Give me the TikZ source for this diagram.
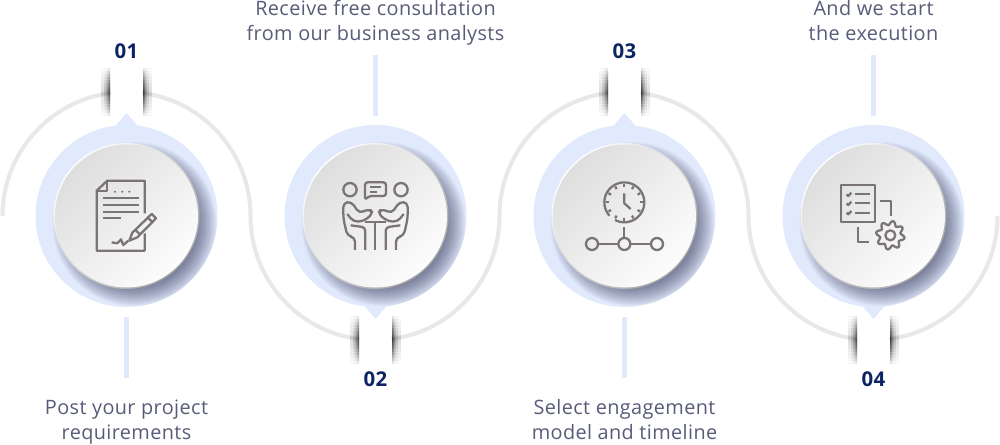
\documentclass[tikz,border=0pt]{standalone}
\usepackage{fontspec}
\setmainfont[LetterSpace=2]{Open Sans}

\definecolor{haloblue}{HTML}{E1E9FC}
\definecolor{arcgrey}{HTML}{E8E8E8}
\definecolor{iconink}{HTML}{7A7574}
\definecolor{textink}{HTML}{585C78}
\definecolor{numberink}{HTML}{0C2463}
\definecolor{shadowink}{HTML}{2A2E50}

\tikzset{
  halo/.style={fill=haloblue},
  route/.style={draw=arcgrey, line width=2.3pt},
  stem/.style={draw=haloblue, line width=2.3pt},
  discshadow/.style={fill=shadowink, fill opacity=0.035},
  gapshadow/.style={fill=black, fill opacity=0.016},
  icon/.style={draw=iconink, line width=1.3pt, line join=round},
  iconbox/.style 2 args={shift={(#1,#2)}, x=0.00667cm, y=-0.00667cm},
  caption/.style={text=textink, font=\fontsize{11.3pt}{14.2pt}\selectfont, align=center},
  number/.style={text=numberink, font=\fontsize{11.6pt}{14pt}\selectfont\bfseries}
}

% name, x, tip direction
\newcommand{\stepdisc}[3]{
  \coordinate (#1) at (#2,228);
  \fill[halo] (#1) circle (91);
  \fill[halo] ([shift={(-12,#3*89)}]#1) -- ([shift={(0,#3*103)}]#1) -- ([shift={(12,#3*89)}]#1) -- cycle;
  \begin{scope}
    \clip (#1) circle (91);
    \foreach \r in {60,61,...,82}
      \fill[discshadow] ([shift={(8,-8)}]#1) circle (\r);
  \end{scope}
  \shade[top color=white, bottom color=black!35, shading angle=45] (#1) circle (73);
  \shade[top color=black!13, bottom color=black!1, shading angle=45] (#1) circle (71.5);
}

% x of gap, y of gap
\newcommand{\gapshade}[2]{
  \foreach \w in {0.5,1,1.5,2,3,4,6,9}
    \foreach \h in {3,6,...,24} {
      \fill[gapshadow] (#1-16.5,#2-\h) rectangle (#1-16.5-\w,#2+\h);
      \fill[gapshadow] (#1+16.5,#2-\h) rectangle (#1+16.5+\w,#2+\h);
    }
}

\begin{document}
\begin{tikzpicture}[x=0.02cm, y=0.02cm]
  \fill[white] (0,0) rectangle (1000,444);
  \useasboundingbox (0,0) rectangle (1000,444);

  % Discs
  \stepdisc{disc1}{126.5}{1}
  \stepdisc{disc2}{375.5}{-1}
  \stepdisc{disc3}{624.5}{1}
  \stepdisc{disc4}{873.5}{-1}

  % Route
  \draw[route] ([shift={(180:124)}]disc1) arc[start angle=180, end angle=97.4, radius=124];
  \draw[route] ([shift={(82.6:124)}]disc1) arc[start angle=82.6, end angle=0, radius=124]
    arc[start angle=180, end angle=262.6, radius=124];
  \draw[route] ([shift={(277.4:124)}]disc2) arc[start angle=277.4, end angle=360, radius=124]
    arc[start angle=180, end angle=97.4, radius=124];
  \draw[route] ([shift={(82.6:124)}]disc3) arc[start angle=82.6, end angle=0, radius=124]
    arc[start angle=180, end angle=262.6, radius=124];
  \draw[route] ([shift={(277.4:124)}]disc4) arc[start angle=277.4, end angle=360, radius=124];

  \gapshade{126.5}{352}
  \gapshade{375.5}{104}
  \gapshade{624.5}{352}
  \gapshade{873.5}{104}

  % Stems
  \coordinate (stem1a) at (126.5,127); \coordinate (stem1b) at (126.5,66);
  \coordinate (stem2a) at (375.5,389); \coordinate (stem2b) at (375.5,328);
  \coordinate (stem3a) at (624.5,127); \coordinate (stem3b) at (624.5,66);
  \coordinate (stem4a) at (873.5,389); \coordinate (stem4b) at (873.5,328);
  \foreach \n in {1,2,3,4}
    \draw[stem] (stem\n a) -- (stem\n b);

  % Numbers
  \node[number] (num1) at (126.5,393) {01};
  \node[number] (num2) at (375.5,65) {02};
  \node[number] (num3) at (624.5,393) {03};
  \node[number] (num4) at (873.5,65) {04};

  % Captions
  \node[caption] (text1) at (126.5,22) {Post your project\\requirements};
  \node[caption] (text2) at (375.5,421.5) {Receive free consultation\\from our business analysts};
  \node[caption] (text3) at (624.5,24) {Select engagement\\model and timeline};
  \node[caption] (text4) at (873.5,423.5) {And we start\\the execution};

  % Document icon
  \begin{scope}[iconbox={60}{294}]
    \draw[icon] (254,190) -- (254,92) -- (142,92) -- (110,122) -- (110,302) -- (254,302) -- (254,250);
    \draw[icon] (142,92) -- (142,122) -- (110,122);
    \foreach \y in {145,165,185}
      \draw[icon] (130,\y) -- (236,\y);
    \draw[icon] (130,205) -- (183,205);
    \foreach \x in {165,187,208}
      \fill[iconink] (\x,125) circle (3.5);
    \draw[icon] (155,277) -- (172,280) -- (183,268) -- (190,285) -- (205,272);
    \draw[icon] (208,272) -- (217,248) -- (275,192) -- (288,205) -- (232,262) -- cycle;
    \draw[icon] (226,240) -- (241,254);
    \draw[icon] (264,203) -- (277,216);
  \end{scope}

  % Meeting icon
  \begin{scope}[iconbox={310}{294}]
    \draw[icon] (120,119) circle (20);
    \draw[icon] (273,119) circle (20);
    \draw[icon, rounded corners=1.5pt] (165,150) -- (165,97) -- (228,97) -- (228,138) -- (177,138) -- cycle;
    \draw[icon] (180,110) -- (212,110);
    \draw[icon] (180,125) -- (200,125);
    \draw[icon, rounded corners=2.5pt] (112,192) -- (130,215) -- (160,214) -- (190,190) -- (178,176) -- (148,190) -- (124,155) -- (100,158) -- (100,205) -- (112,258) -- (135,262) -- (135,300);
    \draw[icon, rounded corners=2.5pt] (281,192) -- (263,215) -- (233,214) -- (203,190) -- (215,176) -- (245,190) -- (269,155) -- (293,158) -- (293,205) -- (281,258) -- (258,262) -- (258,300);
    \draw[icon, rounded corners=2pt] (122,226) -- (166,232) -- (166,300);
    \draw[icon, rounded corners=2pt] (271,226) -- (227,232) -- (227,300);
    \draw[icon] (165,215) -- (228,215);
    \draw[icon] (195,215) -- (195,300);
  \end{scope}

  % Clock icon
  \begin{scope}[iconbox={560}{294}]
    \coordinate (clock) at (193,157);
    \draw[icon] ([shift={(118:60)}]clock) arc[start angle=118, end angle=-222, radius=60];
    \foreach \a in {0,30,...,330}
      \draw[icon] ([shift={(\a:46)}]clock) -- ([shift={(\a:55)}]clock);
    \draw[icon] (193,130) -- (193,160) -- (212,177);
    \draw[icon] (193,230) -- (193,264);
    \draw[icon] (96,282) circle (18);
    \draw[icon] (193,282) circle (18);
    \draw[icon] (291,282) circle (18);
    \draw[icon] (114,282) -- (175,282);
    \draw[icon] (211,282) -- (273,282);
  \end{scope}

  % Checklist icon
  \begin{scope}[iconbox={810}{294}]
    \draw[icon] (94,105) rectangle (195,217);
    \foreach \y in {133,160,188} {
      \draw[icon] (110,\y) -- (115,\y+5) -- (124,\y-5);
      \draw[icon] (135,\y) -- (180,\y);
    }
    \draw[icon] (209,152) -- (243,152) -- (243,198);
    \draw[icon] (145,232) -- (145,277) -- (178,277);
    \coordinate (gear) at (241,256);
    \draw[icon] (gear) circle (15);
    \draw[icon, shift={(241,256)}] plot[domain=0:360, samples=145, smooth] (\x:{37+6*sin(8*\x)});
  \end{scope}
\end{tikzpicture}
\end{document}
